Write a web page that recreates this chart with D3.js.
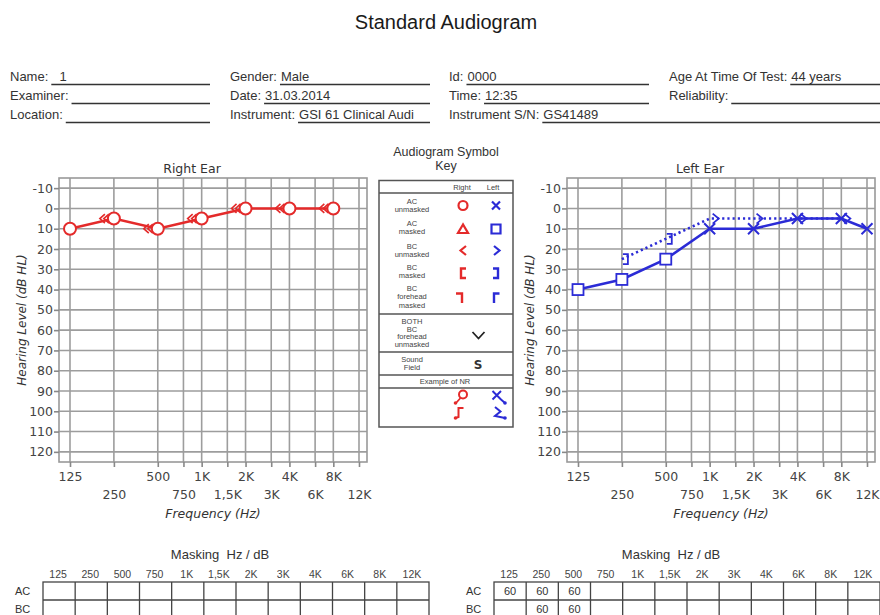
<!DOCTYPE html>
<html><head><meta charset="utf-8">
<script src="https://cdn.jsdelivr.net/npm/d3@7/dist/d3.min.js"></script>
<style>body{margin:0;background:#fff}svg{display:block}</style>
</head><body><svg id="c" width="880" height="615"></svg>
<script>
// ---------- data ----------
const freqs = [125,250,500,750,1000,1500,2000,3000,4000,6000,8000,12000];
const freqLabels = ["125","250","500","750","1K","1,5K","2K","3K","4K","6K","8K","12K"];
const dbTicks = [-10,0,10,20,30,40,50,60,70,80,90,100,110,120];

const rightACFreq = [125,250,500,1000,2000,4000,8000];
const rightACdB   = [10,5,10,5,0,0,0];
const rightBCFreq = [250,500,1000,2000,4000,8000];
const rightBCdB   = [5,10,5,0,0,0];

const leftACMaskedFreq = [125,250,500];
const leftACMaskeddB   = [40,35,25];
const leftACFreq = [1000,2000,4000,8000,12000];
const leftACdB   = [10,10,5,5,10];
const leftBCMaskedFreq = [250,500];
const leftBCMaskeddB   = [25,15];
const leftBCFreq = [1000,2000,4000,8000];
const leftBCdB   = [5,5,5,5];

const fieldLabels = ["Name:","Gender:","Id:","Age At Time Of Test:","Examiner:","Date:","Time:","Reliability:","Location:","Instrument:","Instrument S/N:"];
const fieldValues = ["\u00a0\u00a01","Male","0000","44 years","","31.03.2014","12:35","","","GSI 61 Clinical Audi","GS41489"];

const keyLabels = [["AC","unmasked"],["AC","masked"],["BC","unmasked"],["BC","masked"],["BC","forehead","masked"]];
const keyLabels2 = [["BOTH","BC","forehead","unmasked"],["Sound","Field"]];

const maskRowLabels = ["AC","BC"];
const rightMaskAC = ["","","","","","","","","","","",""];
const rightMaskBC = ["","","","","","","","","","","",""];
const leftMaskAC  = ["60","60","60","","","","","","","","",""];
const leftMaskBC  = ["","60","60","","","","","","","","",""];

// ---------- setup ----------
const RED = "#e42a2a", BLUE = "#2b2bd6";
const svg = d3.select("#c");
const HF = "Liberation Sans, Arial, sans-serif";
const CF = "DejaVu Sans, Verdana, sans-serif";

svg.append("text").attr("x",446).attr("y",29).attr("text-anchor","middle")
  .attr("font-family",HF).attr("font-size",20).attr("fill","#1a1a1a").text("Standard Audiogram");

// header fields
const colX = [10,230,449,669], colEnd = [210,430,649,880], rowY = [81,100,119];
fieldLabels.forEach((lab,i)=>{
  const r = Math.floor(i/4), c = i%4;
  if (r===2 && c===3) return;
  const end = (r===2 && c===2) ? 880 : colEnd[c];
  const t = svg.append("text").attr("x",colX[c]).attr("y",rowY[r]).attr("font-family",HF)
    .attr("font-size",13).attr("fill","#333").text(lab);
  const w = t.node().getComputedTextLength();
  const sx = colX[c] + w + 3;
  svg.append("line").attr("x1",sx).attr("x2",end).attr("y1",rowY[r]+3.5).attr("y2",rowY[r]+3.5)
    .attr("stroke","#333").attr("stroke-width",1.6);
  if (fieldValues[i]) svg.append("text").attr("x",sx+1).attr("y",rowY[r]).attr("font-family",HF)
    .attr("font-size",13).attr("fill","#333").text(fieldValues[i]);
});

// ---------- ear plots ----------
const W = 308, H = 284;
const x = d3.scaleLog().domain([125,12000]).range([11,300]);
const y = d3.scaleLinear().domain([-15,125]).range([0,H]);
const zip = (fs,ds)=>fs.map((f,i)=>({f,db:ds[i]}));
const line = d3.line().x(d=>x(d.f)).y(d=>y(d.db));

function drawFrame(x0, title){
  const g = svg.append("g").attr("transform",`translate(${x0},178)`);
  g.selectAll(".vg").data(freqs).join("line").attr("x1",d=>x(d)).attr("x2",d=>x(d))
    .attr("y1",0).attr("y2",H).attr("stroke","#9d9d9d").attr("stroke-width",1.6);
  g.selectAll(".hg").data(dbTicks).join("line").attr("y1",d=>y(d)).attr("y2",d=>y(d))
    .attr("x1",0).attr("x2",W).attr("stroke","#9d9d9d").attr("stroke-width",1.6);
  g.append("rect").attr("width",W).attr("height",H).attr("fill","none")
    .attr("stroke","#999").attr("stroke-width",1.6);
  const ya = g.append("g").call(d3.axisLeft(y).tickValues(dbTicks).tickSize(5).tickPadding(1).tickFormat(d=>String(d)));
  const xa = g.append("g").attr("transform",`translate(0,${H})`)
    .call(d3.axisBottom(x).tickValues(freqs).tickSize(5).tickFormat(d=>freqLabels[freqs.indexOf(d)]));
  [ya,xa].forEach(a=>{
    a.select(".domain").remove();
    a.selectAll(".tick line").attr("stroke","#888").attr("stroke-width",1.6);
    a.selectAll("text").attr("font-family",CF).attr("font-size",12.5).attr("fill","#444");
  });
  xa.selectAll("text").attr("y",(d)=>freqs.indexOf(d)%2 ? 28 : 10);
  g.append("text").attr("x",133).attr("y",-5).attr("text-anchor","middle").attr("font-family",CF)
    .attr("font-size",12.5).attr("fill","#333").text(title);
  g.append("text").attr("x",154).attr("y",340).attr("text-anchor","middle").attr("font-family",CF)
    .attr("font-style","italic").attr("font-size",12.5).attr("fill","#333").text("Frequency (Hz)");
  g.append("text").attr("transform",`translate(-33,${H/2}) rotate(-90)`).attr("text-anchor","middle")
    .attr("font-family",CF).attr("font-style","italic").attr("font-size",12).attr("fill","#333")
    .text("Hearing Level (dB HL)");
  return g;
}

// Right ear
const gR = drawFrame(59, "Right Ear");
gR.append("path").datum(zip(rightACFreq,rightACdB)).attr("d",line).attr("fill","none")
  .attr("stroke",RED).attr("stroke-width",2.6);
gR.selectAll(".bc").data(zip(rightBCFreq,rightBCdB)).join("path")
  .attr("d",d=>{const cx=x(d.f), cy=y(d.db);
    return `M${cx-9},${cy-4.5}L${cx-14},${cy}L${cx-9},${cy+4.5}M${cx-5},${cy-4.5}L${cx-10},${cy}L${cx-5},${cy+4.5}`;})
  .attr("fill","none").attr("stroke",RED).attr("stroke-width",1.6);
gR.selectAll(".ac").data(zip(rightACFreq,rightACdB)).join("circle")
  .attr("cx",d=>x(d.f)).attr("cy",d=>y(d.db)).attr("r",6).attr("fill","#fff")
  .attr("stroke",RED).attr("stroke-width",2);

// Left ear
const gL = drawFrame(567, "Left Ear");
const leftAC = zip(leftACMaskedFreq,leftACMaskeddB).concat(zip(leftACFreq,leftACdB));
const leftBC = zip(leftBCMaskedFreq,leftBCMaskeddB).concat(zip(leftBCFreq,leftBCdB));
gL.append("path").datum(leftBC).attr("d",line).attr("fill","none")
  .attr("stroke",BLUE).attr("stroke-width",2.6).attr("stroke-dasharray","2.2,3");
gL.append("path").datum(leftAC).attr("d",line).attr("fill","none")
  .attr("stroke",BLUE).attr("stroke-width",2.6);
gL.selectAll(".sq").data(zip(leftACMaskedFreq,leftACMaskeddB)).join("rect")
  .attr("x",d=>x(d.f)-5.5).attr("y",d=>y(d.db)-5.5).attr("width",11).attr("height",11)
  .attr("fill","#fff").attr("stroke",BLUE).attr("stroke-width",1.8);
gL.selectAll(".xx").data(zip(leftACFreq,leftACdB)).join("path")
  .attr("d",d=>{const cx=x(d.f), cy=y(d.db);
    return `M${cx-5.5},${cy-5.5}L${cx+5.5},${cy+5.5}M${cx-5.5},${cy+5.5}L${cx+5.5},${cy-5.5}`;})
  .attr("stroke",BLUE).attr("stroke-width",2);
gL.selectAll(".gt").data(zip(leftBCFreq,leftBCdB)).join("path")
  .attr("d",d=>{const cx=x(d.f), cy=y(d.db);
    return `M${cx+3},${cy-5}L${cx+9},${cy}L${cx+3},${cy+5}`;})
  .attr("fill","none").attr("stroke",BLUE).attr("stroke-width",1.8);
gL.selectAll(".br").data(zip(leftBCMaskedFreq,leftBCMaskeddB)).join("path")
  .attr("d",d=>{const cx=x(d.f), cy=y(d.db);
    return `M${cx+1},${cy-5}L${cx+6},${cy-5}L${cx+6},${cy+5}L${cx+1},${cy+5}`;})
  .attr("fill","none").attr("stroke",BLUE).attr("stroke-width",1.8);

// ---------- symbol key ----------
const K = svg.append("g");
K.append("text").attr("x",446).attr("y",156).attr("text-anchor","middle").attr("font-family",HF)
  .attr("font-size",12.5).attr("fill","#333").text("Audiogram Symbol");
K.append("text").attr("x",446).attr("y",169.5).attr("text-anchor","middle").attr("font-family",HF)
  .attr("font-size",12.5).attr("fill","#333").text("Key");
K.append("rect").attr("x",379).attr("y",180.5).attr("width",134).attr("height",246.5)
  .attr("fill","none").attr("stroke","#555").attr("stroke-width",1.5);
[193,314,352,375,388].forEach(yy=>K.append("line").attr("x1",379).attr("x2",513)
  .attr("y1",yy).attr("y2",yy).attr("stroke","#555").attr("stroke-width",1.3));
const small = (tx,ty,s)=>K.append("text").attr("x",tx).attr("y",ty).attr("text-anchor","middle")
  .attr("font-family",HF).attr("font-size",7.5).attr("fill","#444").text(s);
small(462,190,"Right"); small(493,190,"Left");
const firstBase = [204,226,249,270,291];
keyLabels.forEach((ls,i)=>ls.forEach((s,j)=>small(412,firstBase[i]+j*8.3,s)));
const firstBase2 = [324,362];
keyLabels2.forEach((ls,i)=>ls.forEach((s,j)=>small(412,firstBase2[i]+j*7.6,s)));
small(445,384,"Example of NR");
const P = (d,c,w)=>K.append("path").attr("d",d).attr("fill","none").attr("stroke",c).attr("stroke-width",w||2.2);
K.append("circle").attr("cx",463).attr("cy",205.5).attr("r",4.5).attr("fill","none").attr("stroke",RED).attr("stroke-width",2.2);
P("M492,201.5L500,209.5M492,209.5L500,201.5",BLUE);
P("M463,224.5L458,233L468,233Z",RED);
P("M491.5,224.5h9v9h-9Z",BLUE);
P("M466,246L460.5,250.5L466,255",RED);
P("M494,246L499.5,250.5L494,255",BLUE);
P("M466,268.5L461,268.5L461,278L466,278",RED,2.4);
P("M493,268.5L498,268.5L498,278L493,278",BLUE,2.4);
P("M456,293.5L462,293.5L462,303",RED,2.4);
P("M499.5,293.5L494,293.5L494,303",BLUE,2.4);
P("M472.5,332L478.5,338.5L484.5,332","#222",1.8);
K.append("text").attr("x",478).attr("y",368.5).attr("text-anchor","middle").attr("font-family",CF)
  .attr("font-weight","bold").attr("font-size",12).attr("fill","#333").text("S");
// NR examples
K.append("circle").attr("cx",463).attr("cy",394.5).attr("r",4).attr("fill","none").attr("stroke",RED).attr("stroke-width",2);
P("M460.5,398L456,403",RED,1.8);
P("M463.5,408L458.5,408L458.5,417L455.5,418",RED,2);
P("M492.5,391L501,399.5M492.5,399.5L501,391M501,399.5L505,403",BLUE,2);
P("M495,407L500.5,411.5L495,416L505,418",BLUE,2);
[[455.5,403],[455.5,418],[505,403],[505,418]].forEach((p,i)=>K.append("circle").attr("cx",p[0]).attr("cy",p[1])
  .attr("r",1.8).attr("fill",i<2?RED:BLUE));

// ---------- masking tables ----------
function drawMask(x0, acVals, bcVals){
  const g = svg.append("g").attr("transform",`translate(${x0},0)`);
  const cw = 386/12;
  const cx = d3.scaleBand().domain(freqLabels).range([0,386]);
  g.append("text").attr("x",177).attr("y",559).attr("text-anchor","middle").attr("font-family",HF)
    .attr("font-size",13).attr("fill","#333").attr("xml:space","preserve").text("Masking  Hz / dB");
  g.selectAll(".mh").data(freqLabels).join("text").attr("x",d=>cx(d)+cw/2-1).attr("y",578)
    .attr("text-anchor","middle").attr("font-family",HF).attr("font-size",10.5).attr("fill","#444").text(d=>d);
  g.append("rect").attr("x",0).attr("y",582).attr("width",386).attr("height",40)
    .attr("fill","none").attr("stroke","#444").attr("stroke-width",1.3);
  g.append("line").attr("x1",0).attr("x2",386).attr("y1",600).attr("y2",600).attr("stroke","#444").attr("stroke-width",1.3);
  g.selectAll(".mv").data(freqLabels.slice(1)).join("line").attr("x1",d=>cx(d)).attr("x2",d=>cx(d))
    .attr("y1",582).attr("y2",622).attr("stroke","#444").attr("stroke-width",1.3);
  maskRowLabels.forEach((s,i)=>g.append("text").attr("x",-28).attr("y",595+i*18).attr("font-family",HF)
    .attr("font-size",11).attr("fill","#333").text(s));
  [acVals,bcVals].forEach((vals,r)=>g.selectAll(".mv"+r).data(vals).join("text")
    .attr("x",(d,i)=>cx(freqLabels[i])+cw/2).attr("y",595+r*18).attr("text-anchor","middle")
    .attr("font-family",HF).attr("font-size",11).attr("fill","#333").text(d=>d));
}
drawMask(43, rightMaskAC, rightMaskBC);
drawMask(494, leftMaskAC, leftMaskBC);
</script></body></html>
